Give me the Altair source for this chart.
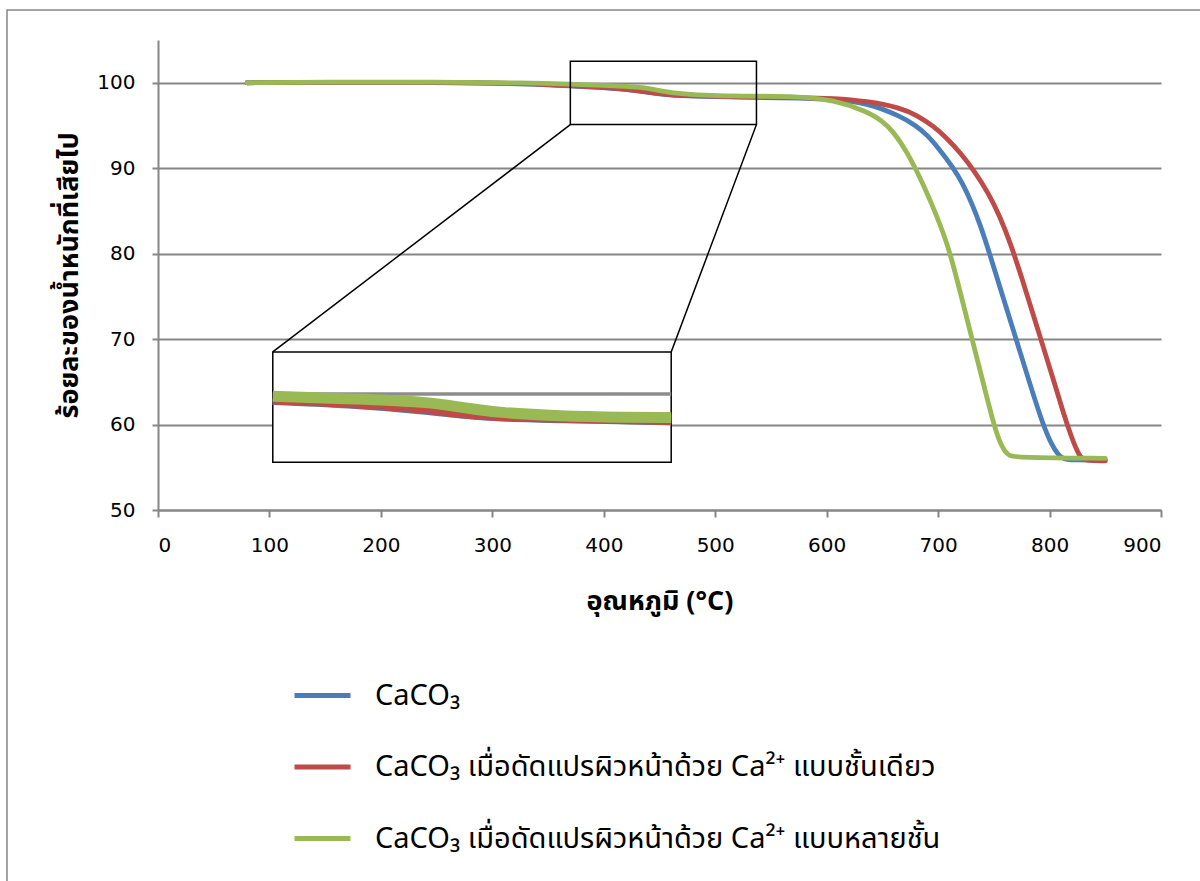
import altair as alt
import pandas as pd

# ---------------- data ----------------
series_names = [
    "CaCO₃",
    "CaCO₃ เมื่อดัดแปรผิวหน้าด้วย Ca²⁺ แบบชั้นเดียว",
    "CaCO₃ เมื่อดัดแปรผิวหน้าด้วย Ca²⁺ แบบหลายชั้น",
]
series_colors = ["#4A7EBB", "#BE4B48", "#98B954"]

temp_blue = [80, 150, 250, 330, 370, 406, 434, 448, 462, 490, 537, 576, 606, 636, 666,
             680, 690, 700, 714, 722, 730, 738, 746, 758, 770, 782, 794, 802, 808, 813,
             820, 850]
wt_blue = [100.0, 100.05, 100.05, 99.9, 99.63, 99.38, 99.0, 98.72, 98.52, 98.41, 98.27,
           98.22, 98.05, 97.66, 96.1, 95.0, 93.9, 92.4, 90.0, 88.2, 86.0, 83.3, 80.1,
           75.0, 70.0, 64.9, 60.0, 57.6, 56.4, 55.95, 55.85, 55.85]

temp_red = [80, 150, 250, 330, 370, 406, 434, 448, 462, 490, 537, 576, 606, 636, 666,
            681, 696, 708, 720, 733, 745, 755, 765, 775, 785, 795, 805, 813, 819, 824,
            828, 832, 850]
wt_red = [100.0, 100.05, 100.05, 99.93, 99.66, 99.41, 99.04, 98.75, 98.55, 98.44, 98.28,
          98.28, 98.18, 97.85, 97.07, 96.2, 94.9, 93.5, 91.8, 89.6, 87.1, 84.5, 81.2,
          77.2, 73.0, 68.8, 64.6, 61.1, 58.8, 57.1, 56.1, 55.8, 55.75]

temp_green = [80, 150, 250, 330, 370, 406, 432, 443, 454, 465, 490, 518, 537, 576, 606,
              636, 650, 660, 670, 680, 693, 705, 711, 720, 730, 740, 749.5, 755, 760,
              764, 770, 850]
wt_green = [100.0, 100.08, 100.08, 99.98, 99.84, 99.66, 99.48, 99.26, 98.99, 98.75, 98.52,
            98.44, 98.42, 98.38, 98.0, 96.65, 95.53, 94.23, 92.33, 89.93, 86.29, 82.33,
            79.93, 75.43, 70.23, 65.13, 60.2, 58.0, 56.8, 56.35, 56.15, 56.05]

x_ticks = [0, 100, 200, 300, 400, 500, 600, 700, 800, 900]
y_ticks = [50, 60, 70, 80, 90, 100]
x_title = "อุณหภูมิ (°C)"
y_title = "ร้อยละของน้ำหนักที่เสียไป"

# zoom box (main data coords) and inset placement (main data coords)
zoom_x = [370, 537]
zoom_y = [95.1, 102.5]
inset_y_domain = [95.45, 102.8]
inset_x_pos = [103, 460.5]
inset_y_pos = [55.6, 68.5]

# ---------------- layout ----------------
W, H = 1003, 470
X_DOM = [0, 900]
Y_DOM = [50, 105]
THAI_FONT = "Tahoma, 'Noto Sans Thai', 'Noto Sans', 'DejaVu Sans', sans-serif"
NUM_FONT = "'DejaVu Sans', Tahoma, sans-serif"
GRID = "#868686"


def px(v):
    return (v - X_DOM[0]) / (X_DOM[1] - X_DOM[0]) * W


def py(v):
    return (Y_DOM[1] - v) / (Y_DOM[1] - Y_DOM[0]) * H


rows = []
for name, ts, ws in zip(series_names,
                        [temp_blue, temp_red, temp_green],
                        [wt_blue, wt_red, wt_green]):
    for t, w in zip(ts, ws):
        rows.append({"series": name, "temp": t, "wt": w})
df = pd.DataFrame(rows)

xs = alt.Scale(domain=X_DOM, nice=False, zero=False)
ys = alt.Scale(domain=Y_DOM, nice=False, zero=False)
color_scale = alt.Scale(domain=series_names, range=series_colors)

frame = alt.Chart(pd.DataFrame({"a": [0]})).mark_rect(
    fillOpacity=0, stroke=GRID, strokeWidth=1.5
).encode(x=alt.value(-151), x2=alt.value(1060), y=alt.value(-30), y2=alt.value(860))

lines = alt.Chart(df).mark_line(
    strokeWidth=4.8, interpolate="basis", strokeCap="round", strokeJoin="round"
).encode(
    x=alt.X("temp:Q", scale=xs, title=x_title,
            axis=alt.Axis(values=x_ticks, grid=False, domainColor=GRID, domainWidth=2,
                          tickColor=GRID, tickWidth=2, tickSize=7, labelPadding=18,
                          labelFontSize=20, labelFont=NUM_FONT, labelColor="#000",
                          titleFont=THAI_FONT, titleFontSize=27, titleFontWeight="bold",
                          titleColor="#000", titlePadding=33)),
    y=alt.Y("wt:Q", scale=ys, title=y_title,
            axis=alt.Axis(values=y_ticks, grid=True, gridColor=GRID, gridWidth=2,
                          domainColor=GRID, domainWidth=2, tickColor=GRID, tickWidth=2,
                          tickSize=6, labelPadding=17, labelFontSize=20, labelFont=NUM_FONT,
                          labelColor="#000", titleFont=THAI_FONT, titleFontSize=27,
                          titleFontWeight="bold", titleColor="#000", titlePadding=13)),
    color=alt.Color("series:N", scale=color_scale, sort=series_names,
                    legend=alt.Legend(title=None, orient="none", legendX=134, legendY=625,
                                      symbolType="stroke", symbolSize=3136,
                                      symbolStrokeWidth=5, labelFont=THAI_FONT,
                                      labelFontSize=29, labelColor="#000",
                                      labelOffset=22, rowPadding=25.5, labelLimit=1000,
                                      padding=0, direction="vertical")),
)

box_df = pd.DataFrame({"x1": [zoom_x[0]], "x2": [zoom_x[1]],
                       "y1": [zoom_y[0]], "y2": [zoom_y[1]]})
box = alt.Chart(box_df).mark_rect(fillOpacity=0, stroke="#000", strokeWidth=1.5).encode(
    x=alt.X("x1:Q", scale=xs), x2="x2:Q", y=alt.Y("y1:Q", scale=ys), y2="y2:Q"
)

conn_df = pd.DataFrame({
    "x1": [zoom_x[0], zoom_x[1]], "y1": [zoom_y[0], zoom_y[0]],
    "x2": [inset_x_pos[0], inset_x_pos[1]], "y2": [inset_y_pos[1], inset_y_pos[1]],
})
conn = alt.Chart(conn_df).mark_rule(color="#000", strokeWidth=1.5).encode(
    x=alt.X("x1:Q", scale=xs), y=alt.Y("y1:Q", scale=ys), x2="x2:Q", y2="y2:Q"
)

inset_box_df = pd.DataFrame({"x1": [inset_x_pos[0]], "x2": [inset_x_pos[1]],
                             "y1": [inset_y_pos[0]], "y2": [inset_y_pos[1]]})
inset_box = alt.Chart(inset_box_df).mark_rect(fill="white", stroke="#000", strokeWidth=1.5).encode(
    x=alt.X("x1:Q", scale=xs), x2="x2:Q", y=alt.Y("y1:Q", scale=ys), y2="y2:Q"
)

main = alt.layer(frame, lines, box, conn, inset_box)

ix = alt.Scale(domain=zoom_x, range=[px(inset_x_pos[0]), px(inset_x_pos[1])], nice=False, zero=False)
iy = alt.Scale(domain=inset_y_domain, range=[py(inset_y_pos[0]), py(inset_y_pos[1])],
               nice=False, zero=False)

inset_grid = alt.Chart(pd.DataFrame({"x1": [zoom_x[0]], "x2": [zoom_x[1]], "y": [100]})).mark_rule(
    color="#8C8C8C", strokeWidth=3.5
).encode(x=alt.X("x1:Q", scale=ix, axis=None), x2="x2:Q", y=alt.Y("y:Q", scale=iy, axis=None))

inset_lines = alt.Chart(df).transform_filter(
    f"datum.temp >= {zoom_x[0]} && datum.temp <= {zoom_x[1]}"
).mark_line(strokeWidth=11, interpolate="basis", strokeCap="butt").encode(
    x=alt.X("temp:Q", scale=ix, axis=None),
    y=alt.Y("wt:Q", scale=iy, axis=None),
    color=alt.Color("series:N", scale=color_scale, sort=series_names, legend=None),
)

inset = alt.layer(inset_grid, inset_lines)

chart = alt.layer(main, inset).resolve_scale(
    x="independent", y="independent", color="independent"
).properties(
    width=W, height=H,
    autosize=alt.AutoSizeParams(type="none"),
    padding={"left": 158, "top": 40, "right": 39, "bottom": 371},
).configure_view(stroke=None)

chart.save("out.html", embed_options={"renderer": "svg", "actions": False})
